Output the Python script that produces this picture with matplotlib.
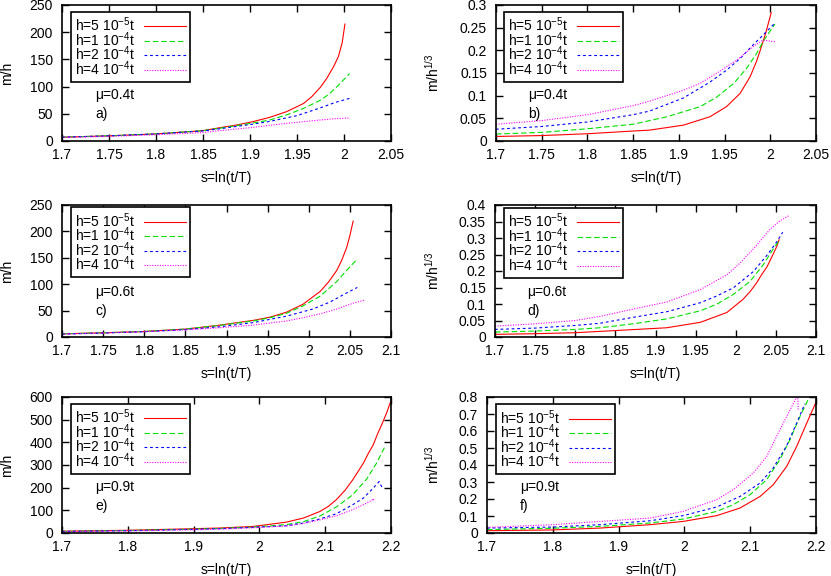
import matplotlib
matplotlib.use('Agg')
import matplotlib.pyplot as plt

plt.rcParams['font.family'] = ['Liberation Sans', 'DejaVu Sans']
plt.rcParams['font.size'] = 10
plt.rcParams['mathtext.fontset'] = 'custom'
plt.rcParams['mathtext.rm'] = 'Liberation Sans'
plt.rcParams['mathtext.it'] = 'Liberation Sans:italic'

labels = ['h=5 10$^{-5}$t', 'h=1 10$^{-4}$t', 'h=2 10$^{-4}$t', 'h=4 10$^{-4}$t']

# panel a: mu=0.4t, m/h
a_red_x = [1.70, 1.75, 1.80, 1.85, 1.868, 1.886, 1.903, 1.921, 1.939, 1.957, 1.966, 1.975, 1.982, 1.989, 1.994, 1.998, 2.001]
a_red_y = [7, 9.5, 13, 19, 24.5, 29.5, 35.5, 43.5, 54, 69, 82, 99, 116, 137, 155, 180, 215]
a_green_x = [1.70, 1.75, 1.80, 1.85, 1.868, 1.903, 1.921, 1.939, 1.957, 1.975, 1.984, 1.992, 2.006]
a_green_y = [7, 9.5, 13, 19, 23.5, 33, 38.6, 48, 60, 75, 86, 99, 124]
a_blue_x = [1.70, 1.75, 1.80, 1.85, 1.868, 1.903, 1.921, 1.950, 1.975, 1.990, 2.006]
a_blue_y = [7, 9.5, 13, 18.5, 22.5, 31, 36, 46.6, 61, 70.5, 78.4]
a_mag_x = [1.70, 1.75, 1.80, 1.85, 1.868, 1.903, 1.939, 1.975, 1.990, 2.006]
a_mag_y = [6.5, 8.5, 11.5, 15.5, 19, 25, 32.5, 38.6, 41, 42.3]

# panel b: mu=0.4t, m/h^(1/3)
b_red_x = [1.70, 1.75, 1.80, 1.85, 1.868, 1.905, 1.934, 1.952, 1.967, 1.978, 1.985, 1.989, 1.995, 2.001]
b_red_y = [0.010, 0.012, 0.016, 0.022, 0.024, 0.035, 0.0535, 0.0756, 0.105, 0.142, 0.176, 0.200, 0.238, 0.283]
b_green_x = [1.70, 1.75, 1.80, 1.850, 1.887, 1.923, 1.941, 1.960, 1.974, 1.985, 1.992, 2.005]
b_green_y = [0.0154, 0.019, 0.027, 0.037, 0.0535, 0.0756, 0.0962, 0.127, 0.160, 0.193, 0.219, 0.258]
b_blue_x = [1.70, 1.75, 1.80, 1.85, 1.868, 1.905, 1.934, 1.952, 1.967, 1.981, 1.992, 2.005]
b_blue_y = [0.026, 0.032, 0.042, 0.058, 0.066, 0.095, 0.130, 0.156, 0.182, 0.2115, 0.2335, 0.260]
b_mag_x = [1.70, 1.75, 1.80, 1.85, 1.868, 1.905, 1.923, 1.941, 1.963, 1.981, 1.992, 2.005]
b_mag_y = [0.037, 0.045, 0.058, 0.078, 0.088, 0.112, 0.127, 0.149, 0.178, 0.208, 0.2225, 0.219]

# panel c: mu=0.6t, m/h
c_red_x = [1.70, 1.75, 1.80, 1.85, 1.892, 1.933, 1.953, 1.973, 1.993, 2.014, 2.024, 2.034, 2.040, 2.046, 2.050, 2.054]
c_red_y = [6, 8, 10.5, 15, 22.5, 31.6, 37.7, 47, 62, 86.5, 104, 126, 145, 169, 192, 219.5]
c_green_x = [1.70, 1.75, 1.80, 1.85, 1.892, 1.933, 1.953, 1.973, 1.993, 2.014, 2.034, 2.046, 2.058]
c_green_y = [6, 8, 10.5, 15, 22, 30.5, 36.5, 45, 59, 77.4, 105, 126, 146]
c_blue_x = [1.70, 1.75, 1.80, 1.85, 1.892, 1.933, 1.973, 2.005, 2.026, 2.046, 2.059]
c_blue_y = [5.5, 7.5, 10, 14, 19.4, 27.4, 39.5, 53, 66.4, 83.4, 93.8]
c_mag_x = [1.70, 1.75, 1.80, 1.85, 1.892, 1.933, 1.973, 1.993, 2.014, 2.034, 2.054, 2.067]
c_mag_y = [5.5, 7.5, 10, 13.5, 17.6, 22.5, 30.4, 36.6, 43.9, 53, 64, 69.5]

# panel d: mu=0.6t, m/h^(1/3)
d_red_x = [1.70, 1.75, 1.80, 1.831, 1.914, 1.956, 1.989, 2.009, 2.018, 2.026, 2.032, 2.039, 2.047, 2.051, 2.054]
d_red_y = [0.008, 0.010, 0.013, 0.017, 0.028, 0.0446, 0.0744, 0.114, 0.138, 0.164, 0.188, 0.213, 0.253, 0.274, 0.2946]
d_green_x = [1.70, 1.75, 1.80, 1.831, 1.872, 1.914, 1.956, 1.976, 1.997, 2.018, 2.034, 2.047, 2.055]
d_green_y = [0.015, 0.018, 0.023, 0.028, 0.040, 0.0548, 0.0795, 0.099, 0.129, 0.169, 0.218, 0.268, 0.2955]
d_blue_x = [1.70, 1.75, 1.80, 1.831, 1.872, 1.914, 1.956, 1.976, 1.997, 2.022, 2.039, 2.051, 2.0585]
d_blue_y = [0.023, 0.027, 0.035, 0.0417, 0.0595, 0.0765, 0.104, 0.124, 0.149, 0.1985, 0.248, 0.288, 0.3176]
d_mag_x = [1.70, 1.75, 1.80, 1.831, 1.872, 1.914, 1.956, 1.989, 2.005, 2.026, 2.043, 2.055, 2.067]
d_mag_y = [0.033, 0.040, 0.050, 0.0625, 0.0845, 0.106, 0.144, 0.1886, 0.223, 0.278, 0.327, 0.352, 0.369]

# panel e: mu=0.9t, m/h
e_red_x = [1.70, 1.80, 1.90, 1.94, 1.991, 2.041, 2.067, 2.092, 2.105, 2.117, 2.130, 2.142, 2.158, 2.165, 2.173, 2.180, 2.188, 2.194, 2.1995]
e_red_y = [8, 12, 19, 22, 29, 48, 66, 95, 118, 147, 188, 235, 308, 348, 389, 440, 492, 535, 580]
e_green_x = [1.70, 1.80, 1.90, 1.94, 1.991, 2.041, 2.067, 2.092, 2.117, 2.142, 2.163, 2.178, 2.19]
e_green_y = [7, 11, 17, 20, 26, 37, 50, 75, 115, 169, 238, 308, 377]
e_blue_x = [1.70, 1.80, 1.90, 1.94, 1.991, 2.041, 2.067, 2.092, 2.117, 2.142, 2.158, 2.173, 2.182, 2.186]
e_blue_y = [7, 10, 16, 19, 25, 32, 44, 62, 85, 125, 154, 198, 227, 203]
e_mag_x = [1.70, 1.80, 1.90, 1.94, 1.991, 2.041, 2.067, 2.092, 2.117, 2.142, 2.163, 2.174, 2.172]
e_mag_y = [6, 9, 14, 17, 23, 31, 42, 58, 76, 103, 132, 150, 140]

# panel f: mu=0.9t, m/h^(1/3)
f_red_x = [1.70, 1.80, 1.872, 1.948, 1.998, 2.049, 2.0845, 2.115, 2.135, 2.1555, 2.1707, 2.186, 2.1995]
f_red_y = [0.0135, 0.018, 0.029, 0.049, 0.068, 0.102, 0.147, 0.215, 0.284, 0.392, 0.51, 0.647, 0.765]
f_green_x = [1.70, 1.80, 1.872, 1.948, 1.998, 2.049, 2.0743, 2.0997, 2.125, 2.145, 2.1605, 2.1757, 2.19]
f_green_y = [0.02, 0.028, 0.039, 0.059, 0.082, 0.127, 0.1665, 0.225, 0.3135, 0.431, 0.549, 0.686, 0.80]
f_blue_x = [1.70, 1.80, 1.872, 1.948, 1.998, 2.049, 2.0845, 2.115, 2.135, 2.155, 2.1707, 2.183]
f_blue_y = [0.029, 0.035, 0.049, 0.072, 0.102, 0.153, 0.215, 0.294, 0.382, 0.51, 0.647, 0.76]
f_mag_x = [1.70, 1.80, 1.872, 1.948, 1.998, 2.049, 2.0743, 2.1047, 2.125, 2.140, 2.1555, 2.1707, 2.172, 2.173]
f_mag_y = [0.033, 0.049, 0.068, 0.088, 0.127, 0.196, 0.255, 0.353, 0.45, 0.568, 0.686, 0.80, 0.84, 0.72]

styles = [
    dict(color='#ff0000', linestyle='-'),
    dict(color='#00e000', linestyle=(0, (5, 2.5))),
    dict(color='#0000ff', linestyle=(0, (2.5, 2.5))),
    dict(color='#ff00ff', linestyle=(0, (1, 1.3))),
]

W, H = 831, 576
fig = plt.figure(figsize=(W / 100, H / 100), dpi=100)

x_a = ['1.7', '1.75', '1.8', '1.85', '1.9', '1.95', '2', '2.05']
x_c = x_a + ['2.1']
x_e = ['1.7', '1.8', '1.9', '2', '2.1', '2.2']

panels = [
    # box px (left, right, top, bottom), curves, xlim, xstep, ylim, ystep, ylabel, mu, tag, xticklabels, ylabel x px, legend offset px
    ((62, 391, 5, 141), [(a_red_x, a_red_y), (a_green_x, a_green_y), (a_blue_x, a_blue_y), (a_mag_x, a_mag_y)],
     (1.7, 2.05), 0.05, (0, 250), 50, 'm/h', '\u03bc=0.4t', 'a)', x_a, 7, (9, 6.5)),
    ((496, 816, 5, 141), [(b_red_x, b_red_y), (b_green_x, b_green_y), (b_blue_x, b_blue_y), (b_mag_x, b_mag_y)],
     (1.7, 2.05), 0.05, (0, 0.3), 0.05, 'm/h$^{1/3}$', '\u03bc=0.4t', 'b)', x_a, 433, (8, 6.5)),
    ((62, 391, 205, 337), [(c_red_x, c_red_y), (c_green_x, c_green_y), (c_blue_x, c_blue_y), (c_mag_x, c_mag_y)],
     (1.7, 2.1), 0.05, (0, 250), 50, 'm/h', '\u03bc=0.6t', 'c)', x_c, 7, (9, 2)),
    ((495, 816, 205, 337), [(d_red_x, d_red_y), (d_green_x, d_green_y), (d_blue_x, d_blue_y), (d_mag_x, d_mag_y)],
     (1.7, 2.1), 0.05, (0, 0.4), 0.05, 'm/h$^{1/3}$', '\u03bc=0.6t', 'd)', x_c, 433, (9, 2.5)),
    ((62, 391, 397, 533), [(e_red_x, e_red_y), (e_green_x, e_green_y), (e_blue_x, e_blue_y), (e_mag_x, e_mag_y)],
     (1.7, 2.2), 0.1, (0, 600), 100, 'm/h', '\u03bc=0.9t', 'e)', x_e, 7, (9, 6.5)),
    ((487, 816, 397, 533), [(f_red_x, f_red_y), (f_green_x, f_green_y), (f_blue_x, f_blue_y), (f_mag_x, f_mag_y)],
     (1.7, 2.2), 0.1, (0, 0.8), 0.1, 'm/h$^{1/3}$', '\u03bc=0.9t', 'f)', x_e, 433, (9, 7)),
]

for box, curves, xlim, xstep, ylim, ystep, ylab, mu, tag, xticklabels, ylab_px, legoff in panels:
    left, right, top, bottom = box
    aw, ah = right - left, bottom - top
    ax = fig.add_axes([left / W, 1 - bottom / H, aw / W, ah / H])
    for (x, y), st, lab in zip(curves, styles, labels):
        ax.plot(x, y, lw=0.8, label=lab, **st)
    ax.set_xlim(*xlim)
    ax.set_ylim(*ylim)
    nx = int(round((xlim[1] - xlim[0]) / xstep))
    ax.set_xticks([xlim[0] + i * xstep for i in range(nx + 1)])
    ax.set_xticklabels(xticklabels)
    ny = int(round((ylim[1] - ylim[0]) / ystep))
    yt = [ylim[0] + i * ystep for i in range(ny + 1)]
    ax.set_yticks(yt)
    ax.set_yticklabels(['%g' % round(v, 3) for v in yt])
    ax.tick_params(direction='in', top=True, right=True, length=5, width=1.0)
    ax.tick_params(axis='x', pad=5)
    ax.tick_params(axis='y', pad=6.5)
    for s in ax.spines.values():
        s.set_linewidth(1.2)
    ax.set_xlabel('s=ln(t/T)')
    ax.xaxis.set_label_coords(0.5, -37 / ah)
    ax.xaxis.label.set_va('center')
    ax.set_ylabel(ylab)
    ax.yaxis.set_label_coords((ylab_px - left) / aw, 0.5)
    ax.yaxis.label.set_va('center')
    ax.text(0.1, 0.34, mu, transform=ax.transAxes, ha='left', va='center')
    ax.text(0.1, 0.2, tag, transform=ax.transAxes, ha='left', va='center')
    leg = ax.legend(loc='upper left', bbox_to_anchor=(legoff[0] / aw, 1 - legoff[1] / ah), borderaxespad=0,
                    markerfirst=False, fancybox=False, framealpha=1, edgecolor='black',
                    handlelength=3.0, handletextpad=0.65, labelspacing=-0.3,
                    borderpad=0.3, fontsize=10)
    leg.get_frame().set_linewidth(1.2)

fig.savefig('out.png', dpi=100)
